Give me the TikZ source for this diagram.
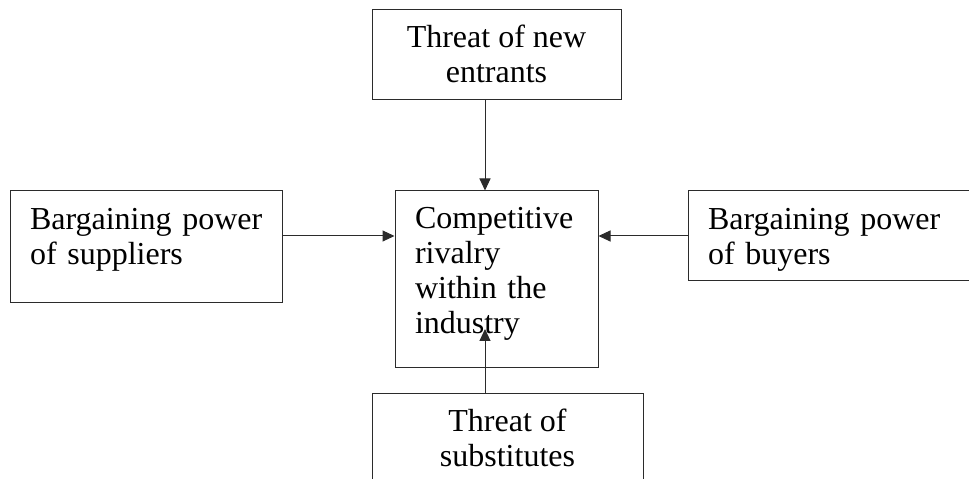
\documentclass[tikz,border=0pt]{standalone}
\usepackage{fontspec}
\setmainfont{Liberation Serif}
\usetikzlibrary{arrows.meta}
\definecolor{linegray}{HTML}{2B2B2B}
\begin{document}
\begin{tikzpicture}[x=1pt,y=1pt,
  box/.style={draw=linegray, line width=1pt, inner xsep=20pt, inner ysep=0pt,
    font=\fontsize{32pt}{35pt}\selectfont},
  force/.style={draw=linegray, line width=1pt, -{Triangle[length=12pt,width=11pt]}}]
  \useasboundingbox (0,0) rectangle (969,479);
  % the five forces
  \node[box, align=center, minimum width=249pt, text height=73pt, text depth=17pt] (entrants) at (496.5,424) {Threat of new\\entrants};
  \node[box, align=left, text width=232pt, minimum width=272pt, text height=39pt, text depth=73pt] (suppliers) at (146,232) {Bargaining~power\\of suppliers};
  \node[box, align=left, text width=163pt, minimum width=203pt, text height=38pt, text depth=139pt] (rivalry) at (496.5,199.5) {Competitive\\rivalry\\within the\\industry};
  \node[box, align=left, text width=247pt, minimum width=287pt, text height=39pt, text depth=51pt] (buyers) at (831.5,243) {Bargaining~power\\of buyers};
  \node[box, align=center, minimum width=271pt, text height=73pt, text depth=19pt] (substitutes) at (507.5,39) {Threat of\\substitutes};
  % arrows into the rivalry box
  \coordinate (mid) at (485,0);
  \coordinate (row) at (0,243);
  \coordinate (tip) at (485,150);
  \draw[force] (entrants.south -| mid) -- (rivalry.north -| mid);
  \draw[force] (suppliers.east |- row) -- (rivalry.west |- row);
  \draw[force] (buyers.west |- row) -- (rivalry.east |- row);
  \draw[force] (substitutes.north -| mid) -- (tip);
\end{tikzpicture}
\end{document}
